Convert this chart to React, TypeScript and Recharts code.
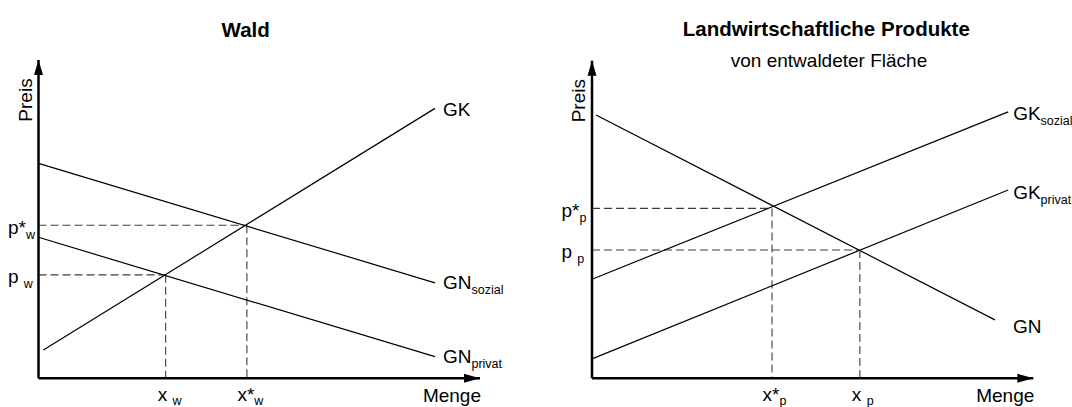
import React from 'react';
import { LineChart, Line, XAxis, YAxis, ReferenceLine, ReferenceDot } from 'recharts';

const FONT = '"Liberation Sans", Arial, Helvetica, sans-serif';

// Wald
const waldGK = [{ x: 1.1, y: 8.9 }, { x: 89.8, y: 84.8 }];
const waldGNSozial = [{ x: 0, y: 67.5 }, { x: 89.8, y: 30.0 }];
const waldGNPrivat = [{ x: 0, y: 44.3 }, { x: 89.8, y: 6.8 }];
const waldMengeTicks = [28.8, 47.2];
const waldMengeLabels = ['x_w', 'x*_w'];
const waldPreisTicks = [32.5, 48.1];
const waldPreisLabels = ['p_w', 'p*_w'];

// Landwirtschaftliche Produkte
const agrarGN = [{ x: 0.9, y: 82.9 }, { x: 91.3, y: 18.4 }];
const agrarGKSozial = [{ x: 0, y: 31.2 }, { x: 94.3, y: 83.9 }];
const agrarGKPrivat = [{ x: 0, y: 6.1 }, { x: 94.3, y: 59.3 }];
const agrarMengeTicks = [40.8, 60.7];
const agrarMengeLabels = ['x*_p', 'x_p'];
const agrarPreisTicks = [53.5, 40.4];
const agrarPreisLabels = ['p*_p', 'p_p'];

type Pt = { x: number; y: number };
type Curve = { data: Pt[]; name: string; sub?: string; dx: number; dy: number };

// "p*_w" -> base "p*", subscript "w"; ohne Stern folgt ein Leerzeichen
const splitLabel = (s: string) => {
  const [base, sub] = s.split('_');
  return { base: base.includes('*') ? base : base + '\u00A0', sub };
};

function SubText({ x, y, text, sub, subDy = 5 }: { x: number; y: number; text: string; sub?: string; subDy?: number }) {
  return (
    <text x={x} y={y} fontFamily={FONT} fontSize={19} fill="#000">
      {text}
      {sub && (
        <tspan fontSize={12.5} dy={subDy}>
          {sub}
        </tspan>
      )}
    </text>
  );
}

const arrowUp = (p: any) => (
  <polygon points={`${p.cx},${p.cy} ${p.cx - 4.5},${p.cy + 15} ${p.cx + 4.5},${p.cy + 15}`} fill="#000" />
);
const arrowRight = (p: any) => (
  <polygon points={`${p.cx},${p.cy} ${p.cx - 16},${p.cy - 4.5} ${p.cx - 16},${p.cy + 4.5}`} fill="#000" />
);

interface PanelProps {
  curves: Curve[];
  mengeTicks: number[];
  mengeLabels: string[];
  preisTicks: number[];
  preisLabels: string[];
  margin: { top: number; right: number; bottom: number; left: number };
}

function Panel({ curves, mengeTicks, mengeLabels, preisTicks, preisLabels, margin }: PanelProps) {
  const PreisTick = (props: any) => {
    const { x, y, payload } = props;
    const lbl = preisLabels[preisTicks.indexOf(payload.value)];
    if (!lbl) return <g />;
    const { base, sub } = splitLabel(lbl);
    return <SubText x={x - 30.5} y={y + 8.5} text={base} sub={sub} />;
  };

  const MengeTick = (props: any) => {
    const { x, y, payload } = props;
    const lbl = mengeLabels[mengeTicks.indexOf(payload.value)];
    if (!lbl) return <g />;
    const { base, sub } = splitLabel(lbl);
    const shift = base.includes('*') ? 9.5 : 8;
    return <SubText x={x - shift} y={y + 23} text={base} sub={sub} subDy={3.5} />;
  };

  const preisTitle = (props: any) => {
    const vb = props.viewBox;
    const cx = vb.x + vb.width - 7;
    const cy = vb.y + 40;
    return (
      <text transform={`translate(${cx},${cy}) rotate(-90)`} textAnchor="middle" fontFamily={FONT} fontSize={19} fill="#000">
        Preis
      </text>
    );
  };

  const mengeTitle = (props: any) => {
    const vb = props.viewBox;
    return (
      <text x={vb.x + vb.width + 1} y={vb.y + 23.5} textAnchor="end" fontFamily={FONT} fontSize={19} fill="#000">
        Menge
      </text>
    );
  };

  const endLabel = (c: Curve) => (props: any) => {
    if (props.index !== c.data.length - 1) return <g />;
    return <SubText x={props.x + c.dx} y={props.y + c.dy} text={c.name} sub={c.sub} />;
  };

  return (
    <LineChart width={536} height={407} margin={margin}>
      <XAxis
        type="number"
        dataKey="x"
        domain={[0, 100]}
        ticks={mengeTicks}
        interval={0}
        tick={<MengeTick />}
        tickLine={false}
        tickSize={0}
        tickMargin={0}
        height={1}
        axisLine={{ stroke: '#000', strokeWidth: 2.5 }}
        label={mengeTitle}
      />
      <YAxis
        type="number"
        domain={[0, 100]}
        ticks={preisTicks}
        interval={0}
        tick={<PreisTick />}
        tickLine={false}
        tickSize={0}
        tickMargin={0}
        width={1}
        axisLine={{ stroke: '#000', strokeWidth: 2.5 }}
        label={preisTitle}
      />
      {mengeTicks.map((q, i) => (
        <ReferenceLine
          key={`h${i}`}
          segment={[{ x: 0, y: preisTicks[i] }, { x: q, y: preisTicks[i] }]}
          stroke="#3c3c3c"
          strokeWidth={1.1}
          strokeDasharray="8 4"
        />
      ))}
      {mengeTicks.map((q, i) => (
        <ReferenceLine
          key={`v${i}`}
          segment={[{ x: q, y: preisTicks[i] }, { x: q, y: 0 }]}
          stroke="#3c3c3c"
          strokeWidth={1.1}
          strokeDasharray="8 4"
        />
      ))}
      {curves.map((c) => (
        <Line
          key={c.name + (c.sub || '')}
          data={c.data}
          dataKey="y"
          stroke="#000"
          strokeWidth={1.2}
          dot={false}
          activeDot={false}
          isAnimationActive={false}
          label={endLabel(c)}
        />
      ))}
      <ReferenceDot x={0} y={100} r={0} shape={arrowUp} ifOverflow="visible" />
      <ReferenceDot x={100} y={0} r={0} shape={arrowRight} ifOverflow="visible" />
    </LineChart>
  );
}

export default function App() {
  return (
    <div style={{ position: 'absolute', left: 0, top: 0, width: 1072, height: 407, background: '#fff', fontFamily: FONT }}>
      {/* Titel */}
      <div style={{ position: 'absolute', left: 145.7, top: 19.6, width: 200, textAlign: 'center', fontSize: 20.5, lineHeight: 1, fontWeight: 'bold' }}>
        Wald
      </div>
      <div style={{ position: 'absolute', left: 626.3, top: 19.4, width: 400, textAlign: 'center', fontSize: 20.5, lineHeight: 1, fontWeight: 'bold' }}>
        Landwirtschaftliche Produkte
      </div>
      <div style={{ position: 'absolute', left: 679, top: 50.6, width: 300, textAlign: 'center', fontSize: 19, lineHeight: 1 }}>
        von entwaldeter Fläche
      </div>

      <div style={{ position: 'absolute', left: 0, top: 0 }}>
        <Panel
          curves={[
            { data: waldGK, name: 'GK', dx: 8, dy: 8 },
            { data: waldGNSozial, name: 'GN', sub: 'sozial', dx: 8, dy: 6.5 },
            { data: waldGNPrivat, name: 'GN', sub: 'privat', dx: 8, dy: 6 },
          ]}
          mengeTicks={waldMengeTicks}
          mengeLabels={waldMengeLabels}
          preisTicks={waldPreisTicks}
          preisLabels={waldPreisLabels}
          margin={{ top: 60, right: 56, bottom: 27.7, left: 37.5 }}
        />
      </div>
      <div style={{ position: 'absolute', left: 536, top: 0 }}>
        <Panel
          curves={[
            { data: agrarGN, name: 'GN', dx: 18, dy: 13.5 },
            { data: agrarGKSozial, name: 'GK', sub: 'sozial', dx: 5, dy: 8 },
            { data: agrarGKPrivat, name: 'GK', sub: 'privat', dx: 5, dy: 9.5 },
          ]}
          mengeTicks={agrarMengeTicks}
          mengeLabels={agrarMengeLabels}
          preisTicks={agrarPreisTicks}
          preisLabels={agrarPreisLabels}
          margin={{ top: 60.7, right: 38.7, bottom: 27.7, left: 55 }}
        />
      </div>
    </div>
  );
}
